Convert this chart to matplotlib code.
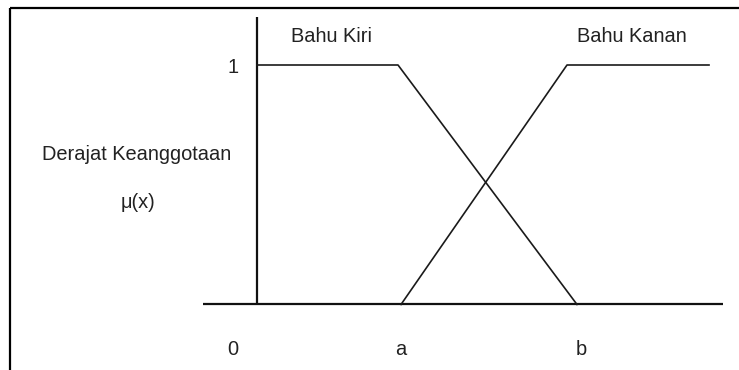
import matplotlib.pyplot as plt

plt.rcParams['font.family'] = ['Liberation Sans', 'DejaVu Sans']

# fungsi keanggotaan bahu (x dalam satuan bebas, 0 = sumbu tegak)
x_a = 144
x_b = 320
kiri_x = [0, 141, x_b]
kiri_y = [1, 1, 0]
kanan_x = [x_a, 310, 452]
kanan_y = [0, 1, 1]

# label sumbu datar
tick_x = [-24, x_a, x_b + 4]
tick_labels = ['0', 'a', 'b']

fig = plt.figure(figsize=(7.39, 3.70), dpi=100)
ax = fig.add_axes([0, 0, 1, 1])
ax.set_xlim(-257, 482)
ax.set_ylim(-0.2735, 1.2714)
ax.axis('off')

# bingkai atas dan kiri
ax.plot([10 / 739, 1], [1 - 8 / 370, 1 - 8 / 370], color='black', lw=1.6,
        transform=ax.transAxes, solid_capstyle='butt')
ax.plot([10 / 739, 10 / 739], [1 - 8 / 370, 0], color='black', lw=1.6,
        transform=ax.transAxes, solid_capstyle='butt')

# sumbu
ax.plot([-54, 466], [0, 0], color='#111111', lw=1.6, solid_capstyle='butt')
ax.plot([0, 0], [0, 1.2], color='#111111', lw=1.6, solid_capstyle='butt')

# kurva
ax.plot(kiri_x, kiri_y, color='#1a1a1a', lw=1.2)
ax.plot(kanan_x, kanan_y, color='#1a1a1a', lw=1.2)

fs = 14.4
tc = '#222222'
ax.text(34, 1.096, 'Bahu Kiri', fontsize=fs, color=tc, ha='left', va='baseline')
ax.text(320, 1.094, 'Bahu Kanan', fontsize=fs, color=tc, ha='left', va='baseline')
ax.text(-24, 0.967, '1', fontsize=fs, color=tc, ha='center', va='baseline')
ax.text(-120, 0.603, 'Derajat Keanggotaan', fontsize=fs, color=tc,
        ha='center', va='baseline')
ax.text(-119, 0.403, 'μ(x)', fontsize=fs, color=tc, ha='center', va='baseline')
for tx, lab in zip(tick_x, tick_labels):
    ax.text(tx, -0.211, lab, fontsize=fs, color=tc, ha='center', va='baseline')

plt.savefig('out.png', dpi=100)
